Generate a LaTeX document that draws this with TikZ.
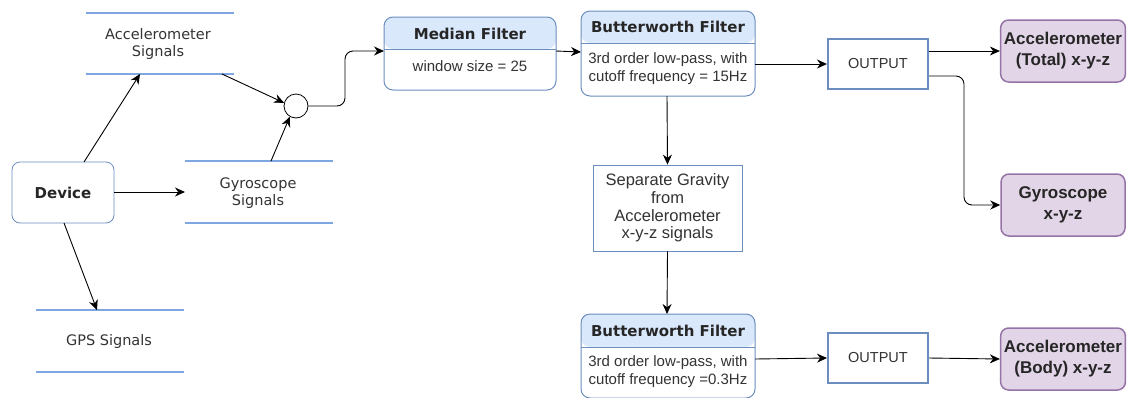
\documentclass[tikz,border=0pt]{standalone}
\usepackage{fontspec}
\setmainfont{Liberation Sans}
\newfontfamily\dvs{DejaVu Sans}
\usetikzlibrary{arrows.meta,positioning,calc}
\definecolor{bluebd}{HTML}{6C8EBF}
\definecolor{bluefill}{HTML}{DAE8FC}
\definecolor{purpfill}{HTML}{E1D5E7}
\definecolor{purpbd}{HTML}{9673A6}
\definecolor{sigline}{HTML}{7EA6E0}
\definecolor{txt}{HTML}{333333}
\tikzset{
  conn/.style={draw=black, line width=0.9pt, -{Stealth[length=10pt,width=9pt]}},
  sigl/.style={draw=sigline, line width=2pt},
  sigtext/.style={font=\dvs\fontsize{14.5}{17}\selectfont, text=txt, align=center},
  devbox/.style={draw=bluebd, rounded corners=8pt, line width=0.8pt, fill=white},
  outbox/.style={draw=bluebd, line width=2pt, fill=white},
  purpbox/.style={draw=purpbd, fill=purpfill, line width=1.5pt, rounded corners=8pt},
  sepbox/.style={draw=bluebd, line width=0.8pt, fill=white},
  ttext/.style={font=\dvs\bfseries\fontsize{15}{17}\selectfont, text=black!85, align=center},
  ptext/.style={font=\bfseries\fontsize{17}{21}\selectfont, text=black!85, align=center},
  ntext/.style={font=\fontsize{15}{18}\selectfont, text=txt, align=center},
}
\begin{document}
\begin{tikzpicture}[x=1pt,y=-1pt]
\useasboundingbox (0,0) rectangle (1132,397);
% signals
\draw[sigl] (86,13) -- (234,13);
\draw[sigl] (86,74) -- (234,74);
\node[sigtext] (acc) at (158,43.5) {Accelerometer\\Signals};
\coordinate (accb) at (140,74);
\coordinate (accbr) at (222,74);
\draw[sigl] (185,161) -- (333,161);
\draw[sigl] (185,223) -- (333,223);
\node[sigtext] (gyr) at (258,193) {Gyroscope\\Signals};
\coordinate (gyrl) at (185,192);
\coordinate (gyrt) at (271,161);
\draw[sigl] (36,310) -- (184,310);
\draw[sigl] (36,372) -- (184,372);
\node[sigtext] (gps) at (109,341) {GPS Signals};
\coordinate (gpst) at (97,310);
% device
\draw[devbox] (12,162) rectangle (114,223);
\node[ttext, font=\dvs\bfseries\fontsize{15}{17}\selectfont] (dev) at (63,192.5) {Device};
\coordinate (devt) at (84,162);
\coordinate (devr) at (114,192);
\coordinate (devb) at (64,223);
% circle
\node[draw=black, circle, minimum size=24pt, inner sep=0pt, line width=0.8pt, fill=white] (circ) at (296,106) {};
% median filter
\fill[bluefill, rounded corners=9pt] (384,49) -- (384,17) -- (556,17) -- (556,49) -- cycle;
\draw[bluebd, line width=1pt, rounded corners=9pt] (384,17) rectangle (556,90);
\draw[bluebd, line width=1pt] (384,49) -- (556,49);
\node[ttext] (medt) at (470,34) {Median Filter};
\node[ntext] (medb) at (470,66) {window size = 25};
\coordinate (medl) at (384,51);
\coordinate (medr) at (556,51);
% butterworth 1
\fill[bluefill, rounded corners=9pt] (581,43) -- (581,11) -- (755,11) -- (755,43) -- cycle;
\draw[bluebd, line width=1pt, rounded corners=9pt] (581,11) rectangle (755,96);
\draw[bluebd, line width=1pt] (581,43) -- (755,43);
\node[ttext] (bf1t) at (668,27) {Butterworth Filter};
\node[ntext] (bf1b) at (668,68.5) {3rd order low-pass, with\\cutoff frequency = 15Hz};
\coordinate (bf1l) at (581,52);
\coordinate (bf1r) at (755,64);
\coordinate (bf1bot) at (667,96);
% output 1
\node[outbox, minimum width=100pt, minimum height=50pt, ntext, font=\fontsize{14.5}{17}\selectfont] (out1) at (878,64) {OUTPUT};
% purple boxes
\node[purpbox, minimum width=124pt, minimum height=62pt, ptext] (acct) at (1063,51) {Accelerometer\\(Total) x-y-z};
\node[purpbox, minimum width=124pt, minimum height=62pt, ptext] (gyo) at (1063,205) {Gyroscope\\x-y-z};
\node[purpbox, minimum width=124pt, minimum height=62pt, ptext] (accb2) at (1063,359) {Accelerometer\\(Body) x-y-z};
% separate
\node[sepbox, minimum width=149pt, minimum height=86pt, ntext, font=\fontsize{16.5}{17.8}\selectfont] (sep) at (667.5,208) {Separate Gravity\\from\\Accelerometer\\x-y-z signals};
% butterworth 2
\fill[bluefill, rounded corners=9pt] (581,347) -- (581,314) -- (755,314) -- (755,347) -- cycle;
\draw[bluebd, line width=1pt, rounded corners=9pt] (581,314) rectangle (755,398);
\draw[bluebd, line width=1pt] (581,347) -- (755,347);
\node[ttext] (bf2t) at (668,331) {Butterworth Filter};
\node[ntext] (bf2b) at (668,372) {3rd order low-pass, with\\cutoff frequency =0.3Hz};
\coordinate (bf2top) at (667,314);
\coordinate (bf2r) at (755,359);
% output 2
\node[outbox, minimum width=100pt, minimum height=50pt, ntext, font=\fontsize{14.5}{17}\selectfont] (out2) at (878,358) {OUTPUT};
% connectors
\draw[conn] (devt) -- (accb);
\draw[conn] (devr) -- (gyrl);
\draw[conn] (devb) -- (gpst);
\draw[conn] (accbr) -- (circ.165);
\draw[conn] (gyrt) -- (circ.240);
\draw[conn, rounded corners=8pt] (circ.east) -- (345,106) -- (345,51) -- (medl);
\draw[conn] (medr) -- (bf1l);
\draw[conn] (bf1r) -- (out1.west);
\draw[conn] (out1.east |- acct.west) -- (acct.west);
\draw[conn, rounded corners=8pt] ($(out1.east)+(0,12)$) -- (964,76) -- (964,205) -- (gyo.west);
\draw[conn] (bf1bot) -- (sep.north);
\draw[conn] (sep.south) -- (bf2top);
\draw[conn] (bf2r) -- (out2.west);
\draw[conn] (out2.east) -- (accb2.west);
\end{tikzpicture}
\end{document}
